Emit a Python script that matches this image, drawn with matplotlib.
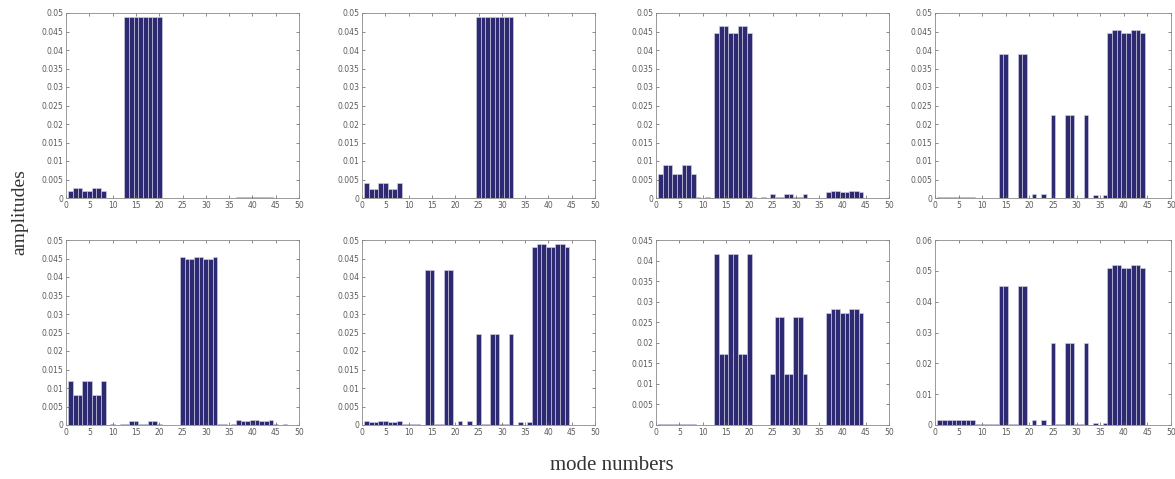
import matplotlib
matplotlib.use('Agg')
import matplotlib.pyplot as plt
import numpy as np

modes = np.arange(1, 49)

# amplitudes per panel, modes 1..48 (8 per line)
amp_a = [0.002, 0.0028, 0.0028, 0.002, 0.002, 0.0028, 0.0028, 0.002,
         0, 0, 0, 0, 0.0489, 0.049, 0.049, 0.0489,
         0.0489, 0.049, 0.049, 0.0489, 0, 0, 0, 0,
         0, 0, 0, 0, 0, 0, 0, 0,
         0, 0, 0, 0, 0.0002, 0.0002, 0.0002, 0.0002,
         0.0002, 0.0002, 0.0002, 0.0002, 0, 0, 0, 0]
amp_b = [0.004, 0.0025, 0.0025, 0.004, 0.004, 0.0025, 0.0025, 0.004,
         0, 0, 0, 0, 0, 0, 0, 0,
         0, 0, 0, 0, 0, 0, 0, 0,
         0.049, 0.049, 0.049, 0.049, 0.049, 0.049, 0.049, 0.049,
         0, 0, 0, 0, 0, 0, 0, 0,
         0, 0, 0, 0, 0, 0, 0, 0]
amp_c = [0.0065, 0.009, 0.009, 0.0065, 0.0065, 0.009, 0.009, 0.0065,
         0.0003, 0, 0.0003, 0, 0.0445, 0.0465, 0.0465, 0.0445,
         0.0445, 0.0465, 0.0465, 0.0445, 0.0004, 0, 0.0004, 0,
         0.001, 0.0002, 0.0002, 0.001, 0.001, 0.0002, 0.0002, 0.001,
         0, 0, 0, 0, 0.0015, 0.002, 0.002, 0.0015,
         0.0015, 0.002, 0.002, 0.0015, 0, 0, 0, 0]
amp_d = [0.0003, 0.0003, 0.0003, 0.0003, 0.0003, 0.0003, 0.0003, 0.0003,
         0, 0, 0, 0, 0, 0.039, 0.039, 0,
         0, 0.039, 0.039, 0, 0.001, 0, 0.001, 0,
         0.0225, 0, 0, 0.0225, 0.0225, 0, 0, 0.0225,
         0, 0.0007, 0, 0.0007, 0.0445, 0.0455, 0.0455, 0.0445,
         0.0445, 0.0455, 0.0455, 0.0445, 0, 0, 0, 0]
amp_e = [0.012, 0.008, 0.008, 0.012, 0.012, 0.008, 0.008, 0.012,
         0, 0.0003, 0, 0.0002, 0.0003, 0.001, 0.001, 0.0003,
         0.0003, 0.001, 0.001, 0.0003, 0, 0, 0, 0,
         0.0455, 0.0448, 0.0448, 0.0455, 0.0455, 0.0448, 0.0448, 0.0455,
         0.0002, 0.0003, 0, 0.0003, 0.0013, 0.001, 0.001, 0.0013,
         0.0013, 0.001, 0.001, 0.0013, 0.0002, 0, 0.0002, 0]
amp_f = [0.001, 0.0008, 0.0008, 0.001, 0.001, 0.0008, 0.0008, 0.001,
         0.0002, 0.0002, 0.0002, 0.0002, 0, 0.042, 0.042, 0.0002,
         0.0002, 0.042, 0.042, 0, 0.0012, 0, 0.0012, 0,
         0.0245, 0.0002, 0.0002, 0.0245, 0.0245, 0.0002, 0.0002, 0.0245,
         0, 0.0007, 0, 0.0007, 0.048, 0.049, 0.049, 0.048,
         0.048, 0.049, 0.049, 0.048, 0, 0, 0, 0]
amp_g = [0.0003, 0.0003, 0.0003, 0.0003, 0.0003, 0.0003, 0.0003, 0.0003,
         0, 0, 0, 0, 0.0415, 0.0173, 0.0173, 0.0415,
         0.0415, 0.0173, 0.0173, 0.0415, 0, 0, 0, 0,
         0.0123, 0.0262, 0.0262, 0.0123, 0.0123, 0.0262, 0.0262, 0.0123,
         0, 0, 0, 0, 0.0273, 0.0282, 0.0282, 0.0273,
         0.0273, 0.0282, 0.0282, 0.0273, 0.0001, 0, 0.0001, 0]
amp_h = [0.0017, 0.0015, 0.0015, 0.0017, 0.0017, 0.0015, 0.0015, 0.0017,
         0.0003, 0.0003, 0.0003, 0.0003, 0.0003, 0.045, 0.045, 0.0002,
         0.0002, 0.045, 0.045, 0, 0.0015, 0, 0.0015, 0,
         0.0265, 0.0003, 0.0003, 0.0265, 0.0265, 0.0003, 0.0003, 0.0265,
         0, 0.0008, 0, 0.0008, 0.051, 0.052, 0.052, 0.051,
         0.051, 0.052, 0.052, 0.051, 0, 0, 0, 0]

panels = [amp_a, amp_b, amp_c, amp_d, amp_e, amp_f, amp_g, amp_h]
ymax = [0.05, 0.05, 0.05, 0.05, 0.05, 0.05, 0.045, 0.06]
ystep = [0.005, 0.005, 0.005, 0.005, 0.005, 0.005, 0.005, 0.01]

W, H = 1175, 479
fig = plt.figure(figsize=(W/100, H/100), dpi=100)

col_left = [66, 362, 656, 935]
col_w = [233, 233, 233, 236]
row_top = [13, 240]
row_h = 185

bar_color = '#2d2a72'
tick_color = '#5a5a5a'

for k, amps in enumerate(panels):
    r, c = divmod(k, 4)
    x0 = col_left[c] / W
    y0 = 1 - (row_top[r] + row_h) / H
    ax = fig.add_axes([x0, y0, col_w[c] / W, row_h / H])
    ax.bar(modes, amps, width=1.0, color=bar_color, edgecolor='#d8d8e8', linewidth=0.4)
    ax.set_xlim(0, 50)
    ax.set_ylim(0, ymax[k])
    ax.set_xticks(np.arange(0, 51, 5))
    yt = np.round(np.arange(0, ymax[k] + 1e-9, ystep[k]), 4)
    ax.set_yticks(yt)
    ax.set_yticklabels(['%g' % v for v in yt])
    ax.tick_params(direction='in', top=True, right=True, length=2.5, width=0.5,
                   labelsize=5.5, colors=tick_color, pad=2)
    for s in ax.spines.values():
        s.set_color('#8a8a8a')
        s.set_linewidth(0.6)

fig.text(20/W, 1 - 212/H, 'amplitudes', rotation=90, ha='center', va='center',
         family='Liberation Serif', fontsize=14, color='#333333')
fig.text(612/W, 1 - 466/H, 'mode numbers', ha='center', va='center',
         family='Liberation Serif', fontsize=15, color='#333333')

fig.savefig('out.png', dpi=100)
